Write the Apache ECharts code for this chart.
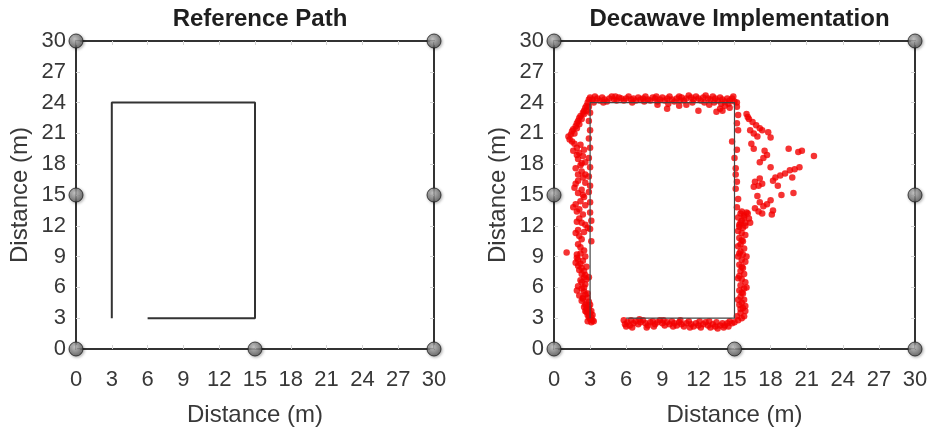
<!DOCTYPE html>
<html>
<head>
<meta charset="utf-8">
<script src="https://cdn.jsdelivr.net/npm/echarts@6/dist/echarts.min.js"></script>
<style>
  html, body { margin: 0; padding: 0; background: #fff; }
  #chart { width: 935px; height: 436px; }
</style>
</head>
<body>
<div id="chart"></div>
<script>
// Axis ticks (metres) shared by both panels
const tickValues = [0, 3, 6, 9, 12, 15, 18, 21, 24, 27, 30];

// Anchor positions around the test area
const anchors = [[0, 0], [15, 0], [30, 0], [0, 15], [30, 15], [0, 30], [30, 30]];

// Planned walking route
const referencePath = [[3, 3], [3, 24], [15, 24], [15, 3], [6, 3]];

// Measured tag positions, grouped by leg of the walk
const leftLeg = [
  [2.9,24.3],[2.8,24.0],[2.7,23.7],[2.6,23.5],[2.5,23.2],[2.4,23.0],[2.2,22.7],[2.1,22.5],[2.0,22.2],[1.9,22.0],
  [1.8,21.7],[1.6,21.4],[1.5,21.2],[1.4,20.9],[1.2,20.7],[1.3,20.4],[1.5,20.2],
  [2.9,23.6],[2.7,23.2],[2.5,22.9],[2.3,22.4],[2.1,21.9],[1.9,21.5],[1.7,21.0],
  [1.7,20.0],[2.2,19.9],[1.9,19.6],[1.6,19.3],[2.1,19.1],[2.4,18.8],[2.0,18.5],[2.6,18.2],[2.2,17.9],[1.8,17.6],
  [2.3,17.3],[2.6,17.0],[2.4,16.7],[2.0,16.4],[1.8,16.1],[1.7,15.7],[2.3,15.5],[2.0,15.2],[2.5,14.8],[2.2,14.4],
  [1.8,14.1],[1.6,13.8],[1.9,13.4],[2.4,13.1],[2.1,12.7],[1.9,12.4],[2.6,12.1],[2.8,11.8],[2.0,11.6],[1.8,11.3],
  [2.1,11.0],[2.3,10.7],[2.0,10.2],[2.5,9.6],[1.9,9.2],[2.0,8.7],[2.2,8.3],[2.3,7.9],[2.5,7.6],[2.6,7.2],
  [2.7,6.8],[2.3,6.5],[2.0,6.1],[1.9,5.7],[2.5,5.6],[2.1,5.2],[2.8,5.0],[2.3,4.7],[2.7,4.4],[2.5,4.1],
  [2.9,3.9],[2.6,3.7],[3.0,3.5],[2.8,3.3],[3.1,3.1],[3.0,2.9],[3.2,2.8],[3.1,2.6],
  [2.5,19.4],[1.9,18.9],[2.3,18.1],[2.0,17.0],[2.6,16.2],[2.4,15.0],[2.6,14.0],[2.1,13.6],[2.3,12.3],[2.5,11.4],
  [2.2,9.9],[2.6,9.0],[2.4,8.6],[2.7,8.0],[2.9,7.0],[2.6,6.3],[2.3,5.9],[2.6,5.3],[2.4,4.9],[2.9,4.6],
  [2.6,4.3],[2.9,4.1],[2.7,3.6],[3.1,3.7],[2.9,3.1],[3.2,3.3],[3.3,2.7],
  [2.8,2.7],[2.9,3.4],[2.7,3.9],[3.0,4.3],[2.4,5.0],[2.8,5.4],[2.5,6.0],[2.2,6.7],[2.5,7.0],[2.3,7.3],
  [2.1,7.7],[2.0,8.1],[1.8,8.4],[1.9,8.9],[2.2,9.3],
  [3.0,23.0],[2.9,22.2],[3.0,21.3],[2.9,20.5],[3.0,19.6],[2.9,18.6],[3.0,17.7],[2.9,16.8],[3.0,15.9],[2.9,15.3],
  [3.0,14.3],[3.0,13.3],[3.1,12.5],[3.0,11.7],[3.1,10.5],
  [1.05,9.4]
];

const topLeg = [
  [3.0,24.5],[3.2,24.3],[3.4,24.6],[3.6,24.4],[3.8,24.2],[4.0,24.5],[4.2,24.3],[4.4,24.1],[4.6,24.4],[4.8,24.6],
  [5.0,24.3],[5.2,24.2],[5.4,24.5],[5.6,24.4],[5.8,24.2],[6.0,24.4],[6.2,24.6],[6.4,24.3],[6.6,24.4],[6.8,24.2],
  [7.0,24.5],[7.2,24.3],[7.4,24.4],[7.6,24.6],[7.8,24.3],[8.0,24.2],[8.2,24.5],[8.4,24.4],[8.6,24.1],[8.8,24.3],
  [9.0,24.5],[9.2,24.2],[9.4,24.4],[9.6,24.6],[9.8,24.3],[10.0,24.1],[10.2,24.4],[10.4,24.6],[10.6,24.5],[10.8,24.2],
  [11.0,24.4],[11.2,24.7],[11.4,24.5],[11.6,24.3],[11.8,24.6],[12.0,24.4],[12.2,24.2],[12.4,24.5],[12.6,24.7],[12.8,24.4],
  [13.0,24.3],[13.2,24.6],[13.4,24.4],[13.6,24.2],[13.8,24.5],[14.0,24.3],[14.2,24.1],[14.4,24.4],[14.6,24.2],[14.8,24.4],
  [15.0,24.1],[15.2,24.0],
  [3.3,24.0],[4.1,24.0],[5.1,24.6],[6.5,24.0],[7.5,24.1],[8.5,24.6],[9.5,23.9],[10.5,24.2],[11.5,24.0],[12.5,24.0],
  [13.3,24.0],[13.9,23.9],[14.5,23.9],[14.9,24.6],
  [9.4,23.4],[10.4,23.7],[12.0,23.2],[13.5,23.1],[13.8,23.4],[14.2,23.7],[14.6,23.5],[12.9,23.8],[11.0,23.8],[8.6,23.8],
  [14.0,23.2]
];

const rightLeg = [
  [15.2,23.6],[15.3,22.8],[15.2,22.0],[15.3,21.3],[14.8,20.2],[15.2,19.4],[15.0,18.6],[15.1,17.6],[15.1,17.0],[15.2,16.3],
  [15.1,15.6],[15.3,14.6],[15.2,13.8],
  [15.5,13.2],[15.8,13.0],[15.3,12.8],[15.6,12.5],[15.9,12.3],[15.4,12.1],[15.7,11.8],[15.3,11.5],[15.6,11.3],[15.9,11.1],
  [15.4,10.8],[15.7,10.5],[15.5,10.2],[15.3,10.0],[15.8,9.8],[15.5,9.5],[15.7,9.2],[15.3,9.0],[15.6,8.7],[15.9,8.5],
  [15.4,8.2],[15.7,7.9],[15.5,7.6],[15.8,7.3],[15.4,7.1],[15.6,6.8],[15.9,6.5],[15.5,6.2],[15.8,5.9],[15.4,5.7],
  [15.7,5.4],[15.5,5.1],[15.8,4.8],[15.6,4.5],[15.4,4.3],[15.7,4.0],[15.9,3.7],[15.5,3.5],[15.8,3.2],[15.6,3.0],
  [15.3,2.8],[15.0,2.6],[14.8,2.5],
  [15.6,13.4],[15.4,11.9],[15.6,10.6],[15.4,9.3],[15.6,8.0],[15.3,6.9],[15.6,5.5],[15.3,4.8],[15.5,3.9],[15.2,3.2],
  [15.9,4.2],[16.0,6.0],[16.0,9.0],[15.9,12.0],[16.2,12.7],[16.0,13.3],[16.3,12.3]
];

const bottomLeg = [
  [5.8,2.8],[5.9,2.4],[6.1,2.6],[6.3,2.3],[6.4,2.8],[6.6,2.5],[6.8,2.7],[7.0,2.4],[7.2,2.6],[7.4,2.8],
  [7.6,2.5],[7.8,2.3],[8.0,2.6],[8.2,2.7],[8.4,2.4],[8.6,2.6],[8.8,2.8],[9.0,2.5],[9.2,2.3],[9.4,2.6],
  [9.6,2.4],[9.8,2.7],[10.0,2.5],[10.2,2.3],[10.4,2.6],[10.6,2.4],[10.8,2.2],[11.0,2.5],[11.2,2.7],[11.4,2.4],
  [11.6,2.2],[11.8,2.5],[12.0,2.3],[12.2,2.1],[12.4,2.4],[12.6,2.6],[12.8,2.3],[13.0,2.1],[13.2,2.4],[13.4,2.2],
  [13.6,2.0],[13.8,2.3],[14.0,2.5],[14.2,2.3],[14.4,2.5],[14.6,2.7],
  [6.0,2.2],[6.5,2.1],[7.1,2.9],[7.7,2.1],[8.3,2.2],[9.1,2.8],[9.9,2.2],[10.5,2.8],[11.3,2.1],[12.1,2.7],
  [12.9,2.7],[13.5,2.6],[14.1,2.1],[14.5,2.2]
];

const drift = [
  [16.0,22.9],[16.1,22.6],[16.2,22.4],[16.5,22.1],[16.8,21.8],[17.1,21.5],[17.3,21.3],[16.3,21.3],[16.6,21.0],[16.9,20.7],
  [17.8,21.1],[18.0,20.6],[16.4,20.0],[16.6,19.5],[17.5,19.3],[17.7,18.9],[19.5,19.5],[20.3,19.2],[20.6,19.3],[21.6,18.8],
  [17.1,18.2],[17.4,18.6],[18.0,17.7],[20.4,17.7],[20.0,17.5],[19.6,17.4],[19.2,17.1],[18.8,16.9],[18.4,16.7],[18.2,16.4],
  [17.1,16.6],[17.3,16.1],[16.6,15.8],[17.0,15.9],[18.6,15.9],[19.8,16.7],[18.9,15.0],[19.9,15.2],[17.1,14.3],[17.4,13.9],
  [17.7,14.1],[18.0,14.5],[16.7,13.7],[17.0,13.4],[17.3,13.2],[18.2,13.5],[16.1,13.2],[15.8,12.8],[15.5,12.3],
  [18.1,13.1],[16.7,16.3],[16.9,14.9]
];

const measured = leftLeg.concat(topLeg, rightLeg, bottomLeg, drift);

const FONT = "'Liberation Sans', Arial, Helvetica, sans-serif";
const FRAME = '#333333';
const TICK = '#d4d4d4';

const panels = [
  { left: 76, width: 358, title: 'Reference Path' },
  { left: 554, width: 361, title: 'Decawave Implementation' }
];

function mainX(gi) {
  return {
    type: 'value', gridIndex: gi, min: 0, max: 30, interval: 3, position: 'bottom',
    name: 'Distance (m)', nameLocation: 'middle', nameGap: 54,
    nameTextStyle: { fontFamily: FONT, fontSize: 24, color: '#383838' },
    axisLine: { show: true, onZero: false, lineStyle: { color: FRAME, width: 2 } },
    axisTick: { show: true, inside: true, length: 4, lineStyle: { color: TICK } },
    axisLabel: { show: true, margin: 20, fontFamily: FONT, fontSize: 22, color: '#383838',
      customValues: tickValues },
    splitLine: { show: false }
  };
}
function mirrorX(gi) {
  return {
    type: 'value', gridIndex: gi, min: 0, max: 30, interval: 3, position: 'top',
    axisLine: { show: true, onZero: false, lineStyle: { color: FRAME, width: 2 } },
    axisTick: { show: true, inside: true, length: 4, lineStyle: { color: TICK } },
    axisLabel: { show: false }, splitLine: { show: false }
  };
}
function mainY(gi) {
  return {
    type: 'value', gridIndex: gi, min: 0, max: 30, interval: 3, position: 'left',
    name: 'Distance (m)', nameLocation: 'middle', nameGap: 44, nameRotate: 90,
    nameTextStyle: { fontFamily: FONT, fontSize: 24, color: '#383838' },
    axisLine: { show: true, onZero: false, lineStyle: { color: FRAME, width: 2 } },
    axisTick: { show: true, inside: true, length: 4, lineStyle: { color: TICK } },
    axisLabel: { show: true, margin: 10, fontFamily: FONT, fontSize: 22, color: '#383838',
      customValues: tickValues },
    splitLine: { show: false }
  };
}
function mirrorY(gi) {
  return {
    type: 'value', gridIndex: gi, min: 0, max: 30, interval: 3, position: 'right',
    axisLine: { show: true, onZero: false, lineStyle: { color: FRAME, width: 2 } },
    axisTick: { show: true, inside: true, length: 4, lineStyle: { color: TICK } },
    axisLabel: { show: false }, splitLine: { show: false }
  };
}

function anchorSeries(gi) {
  return {
    type: 'scatter', xAxisIndex: gi * 2, yAxisIndex: gi * 2, data: anchors,
    symbol: 'circle', symbolSize: 14, clip: false, z: 10, silent: true,
    itemStyle: {
      color: {
        type: 'radial', x: 0.4, y: 0.35, r: 0.75,
        colorStops: [{ offset: 0, color: '#c4c4c4' }, { offset: 1, color: '#464646' }]
      },
      borderColor: '#1e1e1e', borderWidth: 1,
      shadowBlur: 3, shadowColor: 'rgba(0,0,0,0.35)', shadowOffsetX: 1, shadowOffsetY: 1
    }
  };
}

const option = {
  animation: false,
  backgroundColor: '#ffffff',
  textStyle: { fontFamily: FONT },
  title: panels.map(p => ({
    text: p.title, left: p.left + p.width / 2, top: 2, textAlign: 'center',
    textStyle: { fontFamily: FONT, fontSize: 24, fontWeight: 'bold', color: '#1e1e1e' }
  })),
  grid: panels.map(p => ({ left: p.left, top: 41, width: p.width, height: 308, containLabel: false })),
  xAxis: [mainX(0), mirrorX(0), mainX(1), mirrorX(1)],
  yAxis: [mainY(0), mirrorY(0), mainY(1), mirrorY(1)],
  series: [
    {
      type: 'line', xAxisIndex: 0, yAxisIndex: 0, data: referencePath,
      symbol: 'none', silent: true, z: 3,
      lineStyle: { color: '#333', width: 2 }
    },
    anchorSeries(0),
    {
      type: 'scatter', xAxisIndex: 2, yAxisIndex: 2, data: measured,
      symbol: 'circle', symbolSize: 6.5, silent: true, z: 2,
      itemStyle: { color: '#f20000' }
    },
    {
      type: 'line', xAxisIndex: 2, yAxisIndex: 2, data: referencePath,
      symbol: 'none', silent: true, z: 3,
      lineStyle: { color: '#444', width: 1.2 }
    },
    anchorSeries(1)
  ]
};

const chart = echarts.init(document.getElementById('chart'), null, { renderer: 'canvas' });
chart.setOption(option);
</script>
</body>
</html>
